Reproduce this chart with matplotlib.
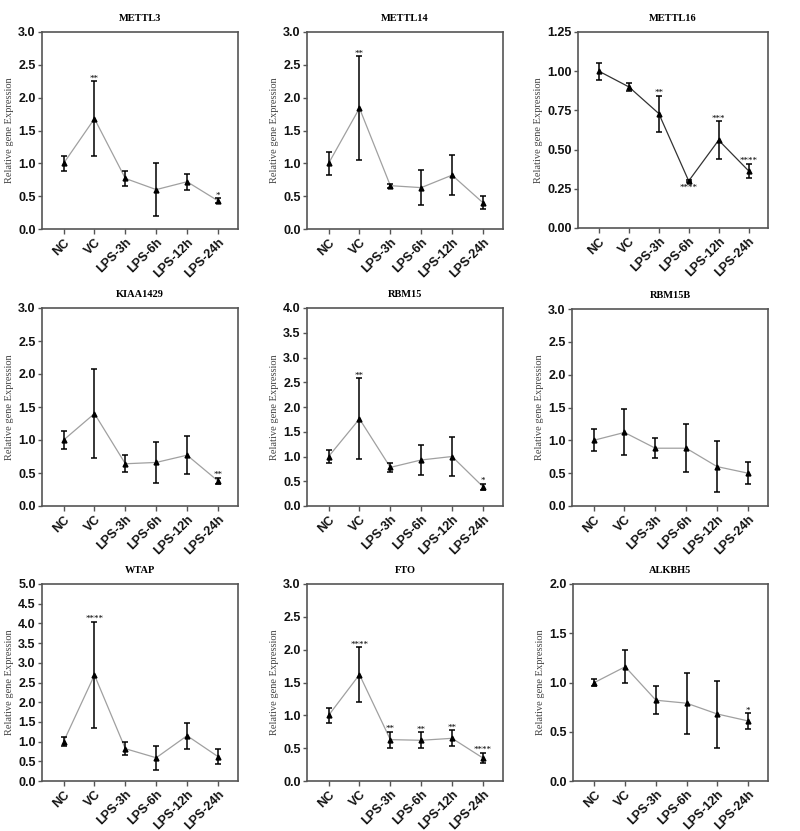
import matplotlib
matplotlib.use("Agg")
import matplotlib.pyplot as plt
import numpy as np

groups = ["NC", "VC", "LPS-3h", "LPS-6h", "LPS-12h", "LPS-24h"]

genes = ["METTL3", "METTL14", "METTL16",
         "KIAA1429", "RBM15", "RBM15B",
         "WTAP", "FTO", "ALKBH5"]

# mean values
mettl3_mean = [1.00, 1.68, 0.77, 0.60, 0.72, 0.43]
mettl3_err = [0.11, 0.57, 0.11, 0.40, 0.12, 0.04]
mettl3_sig = ["", "**", "", "", "", "*"]

mettl14_mean = [1.00, 1.84, 0.66, 0.63, 0.82, 0.40]
mettl14_err = [0.18, 0.79, 0.03, 0.27, 0.30, 0.10]
mettl14_sig = ["", "**", "", "", "", ""]

mettl16_mean = [1.00, 0.90, 0.73, 0.30, 0.56, 0.365]
mettl16_err = [0.055, 0.025, 0.115, 0.008, 0.12, 0.046]
mettl16_sig = ["", "", "**", "****", "***", "****"]

kiaa1429_mean = [1.00, 1.40, 0.64, 0.66, 0.77, 0.38]
kiaa1429_err = [0.14, 0.68, 0.13, 0.31, 0.29, 0.05]
kiaa1429_sig = ["", "", "", "", "", "**"]

rbm15_mean = [1.00, 1.76, 0.78, 0.93, 1.00, 0.39]
rbm15_err = [0.14, 0.82, 0.095, 0.31, 0.40, 0.06]
rbm15_sig = ["", "**", "", "", "", "*"]

rbm15b_mean = [1.00, 1.12, 0.88, 0.88, 0.60, 0.50]
rbm15b_err = [0.17, 0.35, 0.155, 0.365, 0.39, 0.165]
rbm15b_sig = ["", "", "", "", "", ""]

wtap_mean = [1.00, 2.69, 0.82, 0.59, 1.15, 0.62]
wtap_err = [0.12, 1.35, 0.17, 0.31, 0.33, 0.19]
wtap_sig = ["", "****", "", "", "", ""]

fto_mean = [1.00, 1.62, 0.63, 0.62, 0.65, 0.35]
fto_err = [0.11, 0.42, 0.12, 0.12, 0.12, 0.08]
fto_sig = ["", "****", "**", "**", "**", "****"]

alkbh5_mean = [1.00, 1.16, 0.82, 0.79, 0.68, 0.61]
alkbh5_err = [0.04, 0.17, 0.14, 0.31, 0.34, 0.08]
alkbh5_sig = ["", "", "", "", "", "*"]

means = [mettl3_mean, mettl14_mean, mettl16_mean, kiaa1429_mean, rbm15_mean,
         rbm15b_mean, wtap_mean, fto_mean, alkbh5_mean]
errs = [mettl3_err, mettl14_err, mettl16_err, kiaa1429_err, rbm15_err,
        rbm15b_err, wtap_err, fto_err, alkbh5_err]
sigs = [mettl3_sig, mettl14_sig, mettl16_sig, kiaa1429_sig, rbm15_sig,
        rbm15b_sig, wtap_sig, fto_sig, alkbh5_sig]

y_max = [3.0, 3.0, 1.25, 3.0, 4.0, 3.0, 5.0, 3.0, 2.0]
y_step = [0.5, 0.5, 0.25, 0.5, 0.5, 0.5, 0.5, 0.5, 0.5]

# axes boxes in pixels (left, top, right, bottom) on a 800x831 canvas
boxes = [(42, 32, 238, 229), (307, 32, 503, 229), (578, 32, 768, 228),
         (42, 308, 238, 506), (307, 308, 503, 506), (572, 309, 768, 506),
         (42, 584, 238, 781), (307, 584, 503, 781), (573, 584, 768, 781)]

W, H = 800, 831
fig = plt.figure(figsize=(W / 100, H / 100), dpi=100)
spine_c = "#555555"
x = np.arange(len(groups))

for i, gene in enumerate(genes):
    l, t, r, b = boxes[i]
    ax = fig.add_axes([l / W, (H - b) / H, (r - l) / W, (b - t) / H])

    line_c = "#333333" if gene == "METTL16" else "#a0a0a0"
    ax.plot(x, means[i], color=line_c, lw=0.9, zorder=1)
    ax.errorbar(x, means[i], yerr=errs[i], fmt="^", color="black", ms=3.5,
                ecolor="black", elinewidth=1.1, capsize=2.5, capthick=1.1,
                zorder=2)

    for xi, (m, e, s) in enumerate(zip(means[i], errs[i], sigs[i])):
        if not s:
            continue
        if gene == "METTL16" and groups[xi] == "LPS-6h":
            ax.annotate(s, (xi, m - e), xytext=(0, -1), textcoords="offset points",
                        ha="center", va="top", fontsize=6.5, family="Liberation Serif")
        else:
            ax.annotate(s, (xi, m + e), xytext=(0, -1), textcoords="offset points",
                        ha="center", va="bottom", fontsize=6.5, family="Liberation Serif")

    ax.set_xlim(-0.7, 5.65)
    ax.set_ylim(0, y_max[i])
    ticks = np.arange(0, y_max[i] + 1e-9, y_step[i])
    ax.set_yticks(ticks)
    if y_step[i] == 0.25:
        ax.set_yticklabels([f"{v:.2f}" for v in ticks])
    else:
        ax.set_yticklabels([f"{v:.1f}" for v in ticks])
    ax.set_xticks(x)
    ax.set_xticklabels(groups, rotation=45, ha="right", rotation_mode="anchor")

    for lab in ax.get_xticklabels() + ax.get_yticklabels():
        lab.set_family("Liberation Sans")
        lab.set_fontweight("bold")
        lab.set_fontsize(9)
        lab.set_color("#111111")

    ax.tick_params(axis="y", direction="out", length=3, width=1, color=spine_c, pad=1.5)
    ax.tick_params(axis="x", direction="out", length=3.5, width=1, color=spine_c, pad=2)
    for sp in ax.spines.values():
        sp.set_color(spine_c)
        sp.set_linewidth(1.2)

    ax.set_title(gene, fontsize=7.5, fontweight="bold", family="Liberation Serif", pad=8)
    ax.set_ylabel("Relative gene Expression", fontsize=7.5, family="Liberation Serif",
                  color="#444444", labelpad=3)

fig.savefig("out.png", dpi=100, facecolor="white")
plt.close(fig)
